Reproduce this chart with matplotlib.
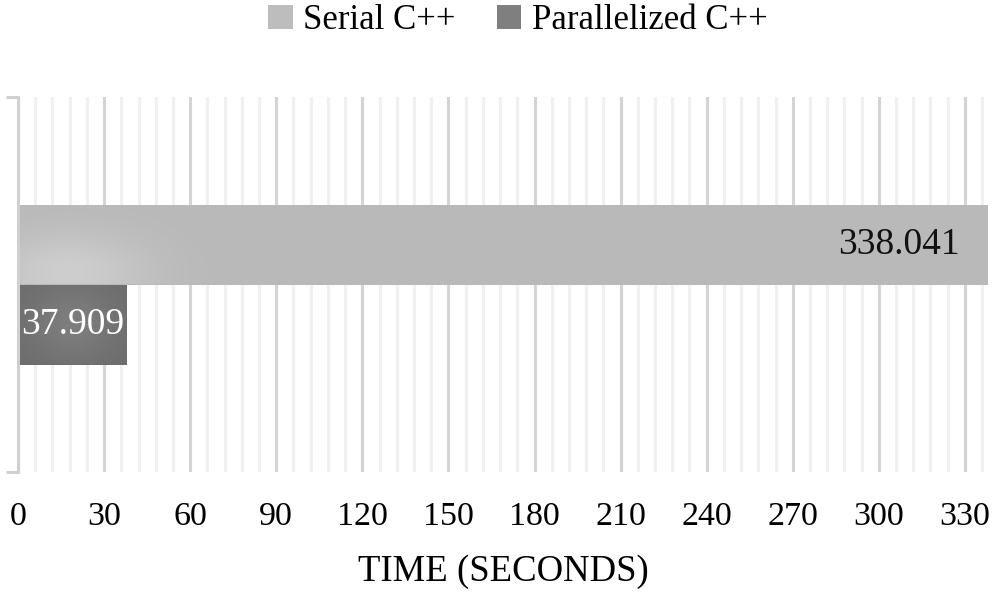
import numpy as np
import matplotlib
matplotlib.use("Agg")
import matplotlib.pyplot as plt
from matplotlib.patches import Patch

# ----------------------------------
# Data
# ----------------------------------
series = ["Serial C++", "Parallelized C++"]
times = [338.041, 37.909]
bar_colors = ["#b9b9b9", "#6c6c6c"]
legend_colors = ["#bdbdbd", "#7f7f7f"]
label_colors = ["#111111", "#ffffff"]

plt.rcParams["font.family"] = ["Liberation Serif", "DejaVu Serif"]

fig = plt.figure(figsize=(9.96, 5.96), dpi=100)
ax = fig.add_axes([18 / 996, 1 - 472 / 596, 970 / 996, 375 / 596])

bar_h = 80 / 375
offsets = [bar_h / 2, -bar_h / 2]

# gridlines: major every 30, minor every 6
ax.set_xlim(0, max(times))
ax.set_ylim(-0.5, 0.5)
ax.set_xticks(np.arange(0, 331, 30))
ax.set_xticks(np.arange(0, max(times), 6), minor=True)
ax.grid(axis="x", which="major", color="#d4d4d4", lw=2.2)
ax.grid(axis="x", which="minor", color="#f0f0f0", lw=2.2)
ax.set_axisbelow(True)

bars = []
for name, t, c, off in zip(series, times, bar_colors, offsets):
    b = ax.barh(off, t, height=bar_h, color=c, edgecolor="none", zorder=2)
    bars.append(b[0])

# soft radial shading inside the bars
gx = np.linspace(0, 1, 300)
gy = np.linspace(0, 1, 60)
GX, GY = np.meshgrid(gx, gy)
shade = [((0.05, 0.15), 6.0, 0.30), ((0.5, 0.5), 1.2, 0.12)]
for bar, (spot, sx, amp) in zip(bars, shade):
    d2 = ((GX - spot[0]) * sx) ** 2 + (GY - spot[1]) ** 2
    a = np.exp(-d2 / 0.25) * amp
    rgba = np.zeros(GX.shape + (4,))
    rgba[..., :3] = 1.0
    rgba[..., 3] = a
    x0, y0 = bar.get_x(), bar.get_y()
    im = ax.imshow(rgba, extent=[x0, x0 + bar.get_width(), y0, y0 + bar.get_height()],
                   origin="lower", aspect="auto", zorder=2.5, interpolation="bilinear")
    im.set_clip_path(bar)

ax.set_xlim(0, max(times))
ax.set_ylim(-0.5, 0.5)

# value labels
ax.annotate(f"{times[0]:.3f}", xy=(times[0], offsets[0]), xytext=(-20, 0),
            textcoords="offset points", ha="right", va="center",
            fontsize=27, color=label_colors[0], zorder=4)
ax.annotate(f"{times[1]:.3f}", xy=(times[1] / 2, offsets[1]), ha="center", va="center",
            fontsize=27, color=label_colors[1], zorder=4)

# axes styling
for s in ["top", "right", "bottom"]:
    ax.spines[s].set_visible(False)
ax.spines["left"].set_color("#d0d0d0")
ax.spines["left"].set_linewidth(2.2)
ax.set_yticks([-0.5, 0.5])
ax.set_yticklabels([])
ax.tick_params(axis="y", length=9, width=2.2, color="#d0d0d0", direction="out")
ax.tick_params(axis="x", which="both", length=0, labelsize=24.5, pad=21)
ax.set_xlabel("TIME (SECONDS)", fontsize=26.5, labelpad=16)

handles = [Patch(facecolor=c, edgecolor="none") for c in legend_colors]
fig.legend(handles, series, loc="upper center", bbox_to_anchor=(0.52, 1.045), ncol=2,
           frameon=False, fontsize=25, handlelength=0.7, handleheight=0.7,
           handletextpad=0.3, columnspacing=1.2)

fig.savefig("out.png", dpi=100)
